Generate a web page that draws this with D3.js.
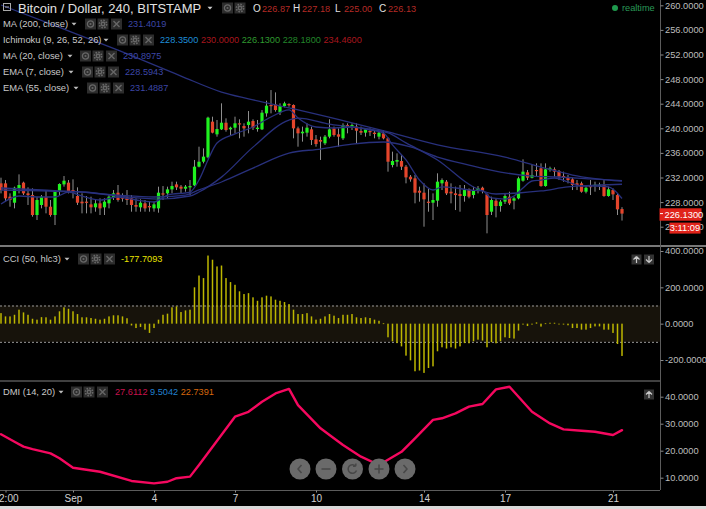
<!DOCTYPE html>
<html><head><meta charset="utf-8">
<script src="https://cdn.jsdelivr.net/npm/d3@7"></script>
<style>html,body{margin:0;padding:0;background:#000;overflow:hidden}</style>
</head><body><svg id="c" width="706" height="509"></svg>
<script>
// ---------------- DATA ----------------
const startUTC = Date.UTC(2015, 7, 29, 8); // Aug 29 2015 08:00, 240-minute bars
const open = [231.05,231.05,228.88,227.90,230.24,231.16,229.42,229.15,225.90,227.53,228.88,227.25,225.90,229.69,230.88,231.16,229.96,228.99,228.07,228.07,227.63,227.15,227.80,227.15,227.80,228.77,229.53,228.77,228.77,228.61,227.53,227.15,227.80,227.36,226.98,226.98,229.42,229.42,230.07,230.88,230.51,230.18,230.40,230.72,233.76,234.57,235.28,241.08,239.02,
239.83,240.91,239.83,240.10,240.81,240.37,240.53,241.18,239.88,239.83,242.43,243.79,243.89,242.59,243.62,243.95,243.79,239.99,239.18,239.29,239.83,238.20,238.10,237.56,238.64,239.99,239.02,238.37,240.53,240.27,240.27,239.56,239.29,239.56,239.29,238.64,239.18,238.37,234.03,234.57,234.68,233.76,232.13,231.86,229.85,229.53,228.07,227.90,228.23,231.05,231.32,229.69,229.42,229.31,228.99,230.07,229.15,229.96,230.34,229.26,226.44,228.23,227.36,228.07,228.88,228.23,228.61,231.48,232.84,231.97,233.22,233.49,230.61,233.22,233.33,233.05,232.24,232.02,231.70,231.05,231.05,229.69,230.61,230.61,230.61,230.78,228.99,229.96,229.15,226.87];
const high = [231.97,231.59,229.42,230.51,232.51,231.32,230.40,230.23,228.88,229.15,229.96,228.34,229.96,231.05,232.24,231.59,231.70,230.40,229.42,228.99,228.88,228.34,228.61,228.61,229.15,229.96,230.78,229.42,229.96,229.15,228.61,228.45,228.34,228.07,228.07,230.51,230.61,230.51,231.32,231.32,230.78,230.78,231.59,234.85,237.01,236.74,241.89,241.89,241.35,
244.06,241.62,240.27,241.89,241.46,240.81,242.81,241.46,241.35,242.97,244.49,246.22,245.84,244.06,244.33,244.06,243.89,240.27,240.27,240.81,240.27,238.91,238.64,238.91,241.46,240.27,239.99,240.81,240.81,240.81,240.81,240.27,239.99,239.99,239.72,239.61,239.72,238.53,236.20,235.93,235.66,234.03,232.40,232.40,230.51,231.05,230.23,229.42,232.68,231.86,231.59,231.05,230.51,230.78,230.78,230.23,230.51,230.61,230.51,229.42,228.88,228.61,228.34,229.42,229.69,228.88,232.13,234.95,233.22,234.03,234.30,234.30,234.30,233.76,233.65,233.22,232.95,232.40,231.97,231.59,231.32,230.61,231.59,231.32,231.16,231.59,230.51,230.23,229.42,227.18];
const low = [229.42,228.07,227.25,226.98,229.42,229.15,227.53,225.63,225.09,226.98,226.17,225.63,224.27,229.15,230.51,229.42,228.61,227.53,226.17,226.17,226.17,226.44,225.90,225.90,226.98,228.34,228.07,228.07,227.53,226.44,226.44,226.44,226.44,226.44,226.44,226.28,228.34,228.61,229.42,229.96,229.42,229.69,229.15,230.61,233.65,234.30,235.11,239.18,238.64,
239.72,239.45,238.91,239.18,238.37,238.64,239.18,239.72,239.45,239.72,241.89,242.43,242.70,242.16,243.41,243.51,238.37,237.01,237.83,238.64,237.28,237.01,234.85,237.28,238.37,238.64,237.01,238.10,239.18,239.72,237.56,238.91,238.64,238.75,238.37,238.20,238.20,232.95,233.65,233.76,233.22,231.05,231.32,227.80,228.07,224.00,226.44,225.09,227.25,229.96,229.15,227.80,226.71,226.44,228.07,228.61,228.61,229.42,229.42,222.92,225.90,225.52,226.44,227.69,227.53,226.82,228.45,231.32,231.59,231.86,232.13,230.51,230.51,232.95,232.13,231.59,231.32,231.05,229.96,229.96,229.53,229.42,229.15,229.69,229.96,228.88,228.88,228.34,225.90,225.00];
const close = [229.96,228.61,228.34,230.34,230.78,229.42,229.15,225.90,228.34,228.88,227.25,225.90,229.80,230.94,231.48,229.80,229.69,227.90,227.80,227.90,227.15,227.80,226.98,228.07,228.88,229.42,228.34,228.56,228.34,227.53,227.25,227.90,226.98,227.15,227.63,229.53,229.26,230.07,230.61,230.40,230.18,230.51,230.61,233.76,234.57,235.39,241.73,239.29,239.88,
240.91,239.72,240.10,240.81,240.64,239.99,241.08,240.10,240.10,242.54,243.68,243.62,242.97,243.62,244.06,243.79,239.99,239.18,239.45,240.10,238.10,237.44,237.83,238.64,239.83,238.91,238.64,240.53,240.16,240.53,239.61,239.29,239.83,239.40,239.07,239.29,238.37,234.57,234.68,234.85,233.76,232.02,231.70,229.53,229.53,228.45,227.90,228.34,231.32,231.59,229.42,229.42,229.15,228.99,229.96,228.88,229.85,230.23,229.80,225.90,228.34,227.36,228.07,228.99,227.80,228.61,231.86,232.95,231.97,232.40,233.05,230.61,233.33,233.49,232.95,232.13,232.02,231.59,230.78,230.78,229.69,230.34,230.51,230.83,230.83,228.99,230.07,229.26,226.82,226.13];
const cci = [58,40,40,49,77,62,49,27,22,36,35,22,40,68,90,82,68,53,35,35,31,27,22,27,40,46,46,40,30,-10,-24,-18,-33,-51,-24,22,49,55,90,95,64,73,77,200,265,251,375,352,315,320,251,229,214,178,163,168,145,126,145,154,150,132,126,119,108,77,53,53,58,40,22,27,40,53,44,31,49,49,53,35,31,35,31,22,16,2,-75,-97,-107,-125,-176,-202,-262,-258,-271,-244,-235,-152,-130,-137,-130,-137,-125,-107,-108,-97,-88,-93,-130,-102,-108,-97,-75,-79,-82,-38,-5,-13,-5,7,-16,2,5,5,-1,-5,-9,-24,-24,-33,-33,-24,-15,-15,-33,-33,-51,-112,-177.7];

// moving-average traces (bar index -> price)
const ma200Bar = [0,13,26,40,49,55,66,78,86,97,112,120,127,138];
const ma200Val = [260.05,256.4,252.7,248.5,245.9,244.8,243.0,240.9,239.4,237.3,235.3,233.7,232.4,231.40];
const ema7Bar = [0,4,8,12,15,18,22,26,30,34,37,42,44,46,48,52,56,60,64,66,70,74,78,82,85,87,90,93,96,98,101,104,107,109,112,114,116,118,120,123,126,129,132,135,138];
const ema7Val = [227.69,228.99,228.83,228.83,229.64,228.99,228.34,228.83,228.34,228.02,229.15,229.64,231.59,234.85,237.61,239.08,240.21,241.84,242.98,241.68,240.21,240.05,240.21,239.72,239.24,237.29,234.85,231.59,229.97,230.46,230.29,229.97,229.81,228.67,228.50,228.99,230.29,231.43,231.59,231.92,231.27,230.62,230.62,230.46,228.59];
const ma20Bar = [0,9,18,26,35,42,44,49,56,64,66,73,86,90,97,105,110,115,120,126,133,138];
const ma20Val = [229.97,229.81,229.64,228.99,228.50,228.99,229.64,232.06,236.94,241.33,241.66,240.68,239.24,237.62,234.85,230.46,229.32,229.48,229.81,230.46,230.78,230.90];
const ema55Bar = [0,9,18,26,34,41,44,49,56,64,71,78,85,91,97,104,111,118,124,131,138];
const ema55Val = [230.29,229.97,229.64,229.15,228.83,229.15,229.97,231.27,233.54,235.98,236.63,237.44,237.77,236.96,235.33,234.03,232.89,232.24,232.08,231.76,231.49];

// DMI trace (bar index -> value)
const dmiBar = [0,3,5,7,11,13,16,22,29,34,37,39,42,44,52,55,58,61,64,66,71,73,76,80,84,89,92,96,98,101,104,107,110,113,118,122,125,129,132,136,138];
const dmiVal = [26.1,23.3,21.5,20.6,19.0,17.2,13.7,12.2,8.8,7.9,8.5,9.8,10.4,14.7,32.6,34.4,38.1,41.2,42.9,36.9,28.3,25.8,22.1,17.8,14.7,19.6,24.6,31.4,32.0,33.8,36.3,37.3,42.7,43.7,34.4,30.1,27.9,27.4,27.0,25.8,27.61];

// axis ticks
const priceTicks = [260,256,252,248,244,240,236,232,228,224];
const cciTicks = [400,200,0,-200];
const dmiTicks = [40,30,20,10];
const xTickDates = [Date.UTC(2015,7,29,12),Date.UTC(2015,8,1),Date.UTC(2015,8,4),Date.UTC(2015,8,7),Date.UTC(2015,8,10),Date.UTC(2015,8,14),Date.UTC(2015,8,17),Date.UTC(2015,8,21)];
const xTickLabels = ['12:00','Sep','4','7','10','14','17','21'];

// ---------------- SETUP ----------------
const FONT = "'Liberation Sans', Arial, sans-serif";
const H4 = 4*3600*1000;
const tOf = i => new Date(startUTC + i*H4);
const svg = d3.select('#c');
svg.append('rect').attr('width',706).attr('height',509).attr('fill','#000');

const x = d3.scaleUtc().domain([tOf(0), tOf(138)]).range([1, 622]);
const yMain = d3.scaleLinear().domain([260,228]).range([5.3, 202.1]);
const yCci = d3.scaleLinear().domain([400,-200]).range([251, 360]);
const yDmi = d3.scaleLinear().domain([40,10]).range([396.7, 477.7]);

const defs = svg.append('defs');
defs.append('clipPath').attr('id','clipMain').append('rect').attr('x',0).attr('y',0).attr('width',660).attr('height',245);
defs.append('clipPath').attr('id','clipCci').append('rect').attr('x',0).attr('y',247).attr('width',660).attr('height',133);
defs.append('clipPath').attr('id','clipDmi').append('rect').attr('x',0).attr('y',382).attr('width',660).attr('height',107);

const bars = open.map((o,i) => ({i, t: tOf(i), o, h: high[i], l: low[i], c: close[i], cci: cci[i]}));

// ---------------- MAIN PANE ----------------
const gMain = svg.append('g').attr('clip-path','url(#clipMain)');
gMain.selectAll('line.wick').data(bars).join('line')
  .attr('x1', d => x(d.t)).attr('x2', d => x(d.t))
  .attr('y1', d => yMain(d.h)).attr('y2', d => yMain(d.l))
  .attr('stroke', '#8e8e8e').attr('stroke-width', 1);
gMain.selectAll('rect.body').data(bars).join('rect')
  .attr('x', d => x(d.t) - 1.6).attr('width', 3.2)
  .attr('y', d => yMain(Math.max(d.o, d.c)))
  .attr('height', d => Math.max(1.2, Math.abs(yMain(d.o) - yMain(d.c))))
  .attr('fill', d => d.c >= d.o ? '#1ff21f' : '#e4452b');

const mkLine = (bs, vs) => bs.map((b,k) => ({t: tOf(b), v: vs[k]}));
const lineMain = d3.line().x(d => x(d.t)).y(d => yMain(d.v)).curve(d3.curveMonotoneX);
[[ma200Bar,ma200Val],[ema55Bar,ema55Val],[ma20Bar,ma20Val],[ema7Bar,ema7Val]].forEach(([b,v]) => {
  gMain.append('path').attr('d', lineMain(mkLine(b,v)))
    .attr('fill','none').attr('stroke','#28307c').attr('stroke-width',1.3);
});

// ---------------- CCI PANE ----------------
const gCci = svg.append('g').attr('clip-path','url(#clipCci)');
gCci.append('rect').attr('x',0).attr('width',660)
  .attr('y', yCci(100)).attr('height', yCci(-100) - yCci(100)).attr('fill','#17130b');
[100,-100].forEach(v => gCci.append('line').attr('x1',0).attr('x2',660)
  .attr('y1', yCci(v)+0.5).attr('y2', yCci(v)+0.5)
  .attr('stroke','#9a9a9a').attr('stroke-dasharray','2,2').attr('stroke-width',1));
gCci.selectAll('rect.cci').data(bars).join('rect')
  .attr('x', d => x(d.t) - 0.75).attr('width', 1.5)
  .attr('y', d => Math.min(yCci(d.cci), yCci(0)))
  .attr('height', d => Math.max(0.8, Math.abs(yCci(d.cci) - yCci(0))))
  .attr('fill', '#bdb700');

// ---------------- DMI PANE ----------------
const gDmi = svg.append('g').attr('clip-path','url(#clipDmi)');
gDmi.append('path').attr('d', d3.line().x(d => x(d.t)).y(d => yDmi(d.v)).curve(d3.curveLinear)(mkLine(dmiBar, dmiVal)))
  .attr('fill','none').attr('stroke','#f5085f').attr('stroke-width',2.4)
  .attr('stroke-linejoin','round').attr('stroke-linecap','round');

// ---------------- FRAME & AXES ----------------
svg.append('line').attr('x1',0).attr('x2',706).attr('y1',246).attr('y2',246).attr('stroke','#a0a0a0').attr('stroke-width',1.6);
svg.append('line').attr('x1',0).attr('x2',660).attr('y1',381).attr('y2',381).attr('stroke','#808080').attr('stroke-width',1);
svg.append('line').attr('x1',660.5).attr('x2',660.5).attr('y1',0).attr('y2',490).attr('stroke','#5c5c5c').attr('stroke-width',1);
svg.append('line').attr('x1',0).attr('x2',660).attr('y1',490.5).attr('y2',490.5).attr('stroke','#5c5c5c').attr('stroke-width',1);
svg.append('rect').attr('x',0).attr('y',506).attr('width',706).attr('height',3).attr('fill','#d9d9d9');

function styleAxis(g, fs) {
  g.select('.domain').remove();
  g.selectAll('line').attr('stroke','#8a8a8a');
  g.selectAll('text').attr('fill','#bdbdbd').attr('font-family',FONT).attr('font-size',fs);
}
const fmt4 = d => d.toFixed(4);
svg.append('g').attr('transform','translate(660.5,0)')
  .call(d3.axisRight(yMain).tickValues(priceTicks).tickSize(3).tickPadding(1.5).tickFormat(fmt4)).call(g => styleAxis(g, 9.3));
svg.append('g').attr('transform','translate(660.5,0)')
  .call(d3.axisRight(yCci).tickValues(cciTicks).tickSize(3).tickPadding(1.5).tickFormat(fmt4)).call(g => styleAxis(g, 9.3));
svg.append('g').attr('transform','translate(660.5,0)')
  .call(d3.axisRight(yDmi).tickValues(dmiTicks).tickSize(3).tickPadding(1.5).tickFormat(fmt4)).call(g => styleAxis(g, 9.3));
svg.append('g').attr('transform','translate(0,490.5)')
  .call(d3.axisBottom(x).tickValues(xTickDates.map(d => new Date(d))).tickSize(2).tickPadding(2.5).tickFormat((d,i) => xTickLabels[i]))
  .call(g => { styleAxis(g, 10); g.selectAll('text').attr('fill','#d2d2d2'); });

// price label + countdown
svg.append('rect').attr('x',659.5).attr('y',208.3).attr('width',42).attr('height',12.4).attr('fill','#e0231a');
svg.append('line').attr('x1',660).attr('x2',663).attr('y1',yMain(226.13)).attr('y2',yMain(226.13)).attr('stroke','#fff');
svg.append('text').attr('x',664.5).attr('y',214.6).attr('dy','0.35em').text('226.1300')
  .attr('fill','#fff').attr('font-family',FONT).attr('font-size',9.3);
svg.append('rect').attr('x',669.5).attr('y',222.6).attr('width',31).attr('height',11).attr('fill','#e0231a');
svg.append('text').attr('x',685).attr('y',228.2).attr('dy','0.35em').attr('text-anchor','middle').text('3:11:09')
  .attr('fill','#fff').attr('font-family',FONT).attr('font-size',9.3);

// ---------------- LEGENDS ----------------
function tri(xc, cy, col) {
  svg.append('path').attr('d', `M${xc-2.5},${cy-1.2}L${xc+2.5},${cy-1.2}L${xc},${cy+1.6}Z`).attr('fill', col || '#bbb');
}
function icons(x0, cy, n) {
  const offs = [0, 12.5, 26].slice(0, n);
  offs.forEach((o,k) => {
    const g = svg.append('g').attr('transform', `translate(${x0+o},${cy-5.5})`);
    g.append('rect').attr('width',11).attr('height',11).attr('fill','#2d2d2d');
    const col = '#676767';
    if (k === 0) {
      g.append('circle').attr('cx',5.5).attr('cy',5.5).attr('r',3.1).attr('fill','none').attr('stroke',col).attr('stroke-width',1.3);
      g.append('circle').attr('cx',5.5).attr('cy',5.5).attr('r',1.1).attr('fill',col);
    } else if (k === 1) {
      g.append('circle').attr('cx',5.5).attr('cy',5.5).attr('r',3.6).attr('fill','none').attr('stroke',col).attr('stroke-width',1.6).attr('stroke-dasharray','1.6,1.2');
      g.append('circle').attr('cx',5.5).attr('cy',5.5).attr('r',2.4).attr('fill',col);
      g.append('circle').attr('cx',5.5).attr('cy',5.5).attr('r',1).attr('fill','#2d2d2d');
    } else {
      g.append('path').attr('d','M2.5,2.5L8.5,8.5M8.5,2.5L2.5,8.5').attr('stroke',col).attr('stroke-width',1.4);
    }
  });
}
function legText(xp, cy, str, col, fs) {
  return svg.append('text').attr('x',xp).attr('y',cy).attr('dy','0.35em').text(str)
    .attr('fill',col).attr('font-family',FONT).attr('font-size',fs || 9.4);
}

// title row
svg.append('rect').attr('x',3.5).attr('y',3.5).attr('width',7).attr('height',7).attr('fill','none').attr('stroke','#aaa').attr('stroke-width',1);
svg.append('line').attr('x1',5).attr('x2',9).attr('y1',7).attr('y2',7).attr('stroke','#aaa');
legText(18, 8, 'Bitcoin / Dollar, 240, BITSTAMP', '#e2e2e2', 13);
tri(210, 8, '#cfcfcf');
icons(222, 8, 2);
const ohlcLab = ['O','H','L','C'], ohlcVal = ['226.87','227.18','225.00','226.13'];
const ohlcX = [253, 293, 335, 379];
ohlcLab.forEach((l,k) => {
  legText(ohlcX[k], 8.5, l, '#e0e0e0', 10);
  legText(ohlcX[k] + 9, 8.5, ohlcVal[k], '#b52b26', 9.2);
});
svg.append('circle').attr('cx',615).attr('cy',8).attr('r',3).attr('fill','#1f9a4e');
legText(622, 8, 'realtime', '#2a9a58', 9.2);

const legendRows = [
  {label:'MA (200, close)', y:24, tri:74, icon:85, vx:128, vals:[['231.4019','#3c46a6']]},
  {label:'Ichimoku (9, 26, 52, 26)', y:40, tri:106, icon:117, vx:160, vals:[['228.3500','#1e8ed8'],['230.0000','#a8161e'],['226.1300','#2f9a2f'],['228.1800','#22862a'],['234.4600','#a8161e']]},
  {label:'MA (20, close)', y:56, tri:70, icon:80, vx:123, vals:[['230.8975','#3c46a6']]},
  {label:'EMA (7, close)', y:72, tri:71, icon:82, vx:125, vals:[['228.5943','#3c46a6']]},
  {label:'EMA (55, close)', y:88, tri:76, icon:87, vx:130, vals:[['231.4887','#3c46a6']]},
  {label:'CCI (50, hlc3)', y:259, tri:67, icon:78, vx:121, vals:[['-177.7093','#e8e400']]},
  {label:'DMI (14, 20)', y:392, tri:61, icon:71, vx:115, vals:[['27.6112','#c8124e'],['9.5042','#2080d0'],['22.7391','#d8680c']]}
];
legendRows.forEach(r => {
  legText(3, r.y, r.label, '#c8c8c8');
  tri(r.tri, r.y, '#bdbdbd');
  icons(r.icon, r.y, 3);
  const t = legText(r.vx, r.y, '', '#fff', 9.2);
  r.vals.forEach(([s,c],k) => t.append('tspan').text((k ? ' ' : '') + s).attr('fill', c));
});

// pane buttons
function arrowBtn(x0, y0, up) {
  svg.append('rect').attr('x',x0).attr('y',y0).attr('width',10).attr('height',10).attr('fill','#333');
  const cx = x0 + 5;
  const d = up ? `M${cx},${y0+2}L${cx-3},${y0+5}M${cx},${y0+2}L${cx+3},${y0+5}M${cx},${y0+2}L${cx},${y0+8.5}`
               : `M${cx},${y0+8}L${cx-3},${y0+5}M${cx},${y0+8}L${cx+3},${y0+5}M${cx},${y0+1.5}L${cx},${y0+8}`;
  svg.append('path').attr('d', d).attr('stroke','#c8c8c8').attr('stroke-width',1.2).attr('fill','none');
}
arrowBtn(631.5, 254.5, true);
arrowBtn(644, 254.5, false);
arrowBtn(644, 389.5, true);

// navigation buttons
const navX = [300, 326, 352.5, 379, 405];
navX.forEach((cx,k) => {
  const cy = 469;
  svg.append('circle').attr('cx',cx).attr('cy',cy).attr('r',10.5).attr('fill','#6a6a6a');
  const p = svg.append('path').attr('fill','none').attr('stroke','#474747').attr('stroke-width',1.5);
  if (k === 0) p.attr('d', `M${cx+1.5},${cy-4}L${cx-2},${cy}L${cx+1.5},${cy+4}`);
  if (k === 1) p.attr('d', `M${cx-4.5},${cy}L${cx+4.5},${cy}`);
  if (k === 2) p.attr('d', `M${cx+3.2},${cy-2.8}A4.3,4.3 0 1 0 ${cx+4},${cy+1.5}M${cx+3.2},${cy-2.8}L${cx+3.4},${cy-5.5}M${cx+3.2},${cy-2.8}L${cx+0.5},${cy-2.8}`);
  if (k === 3) p.attr('d', `M${cx-4.5},${cy}L${cx+4.5},${cy}M${cx},${cy-4.5}L${cx},${cy+4.5}`);
  if (k === 4) p.attr('d', `M${cx-1.5},${cy-4}L${cx+2},${cy}L${cx-1.5},${cy+4}`);
});
</script></body></html>
